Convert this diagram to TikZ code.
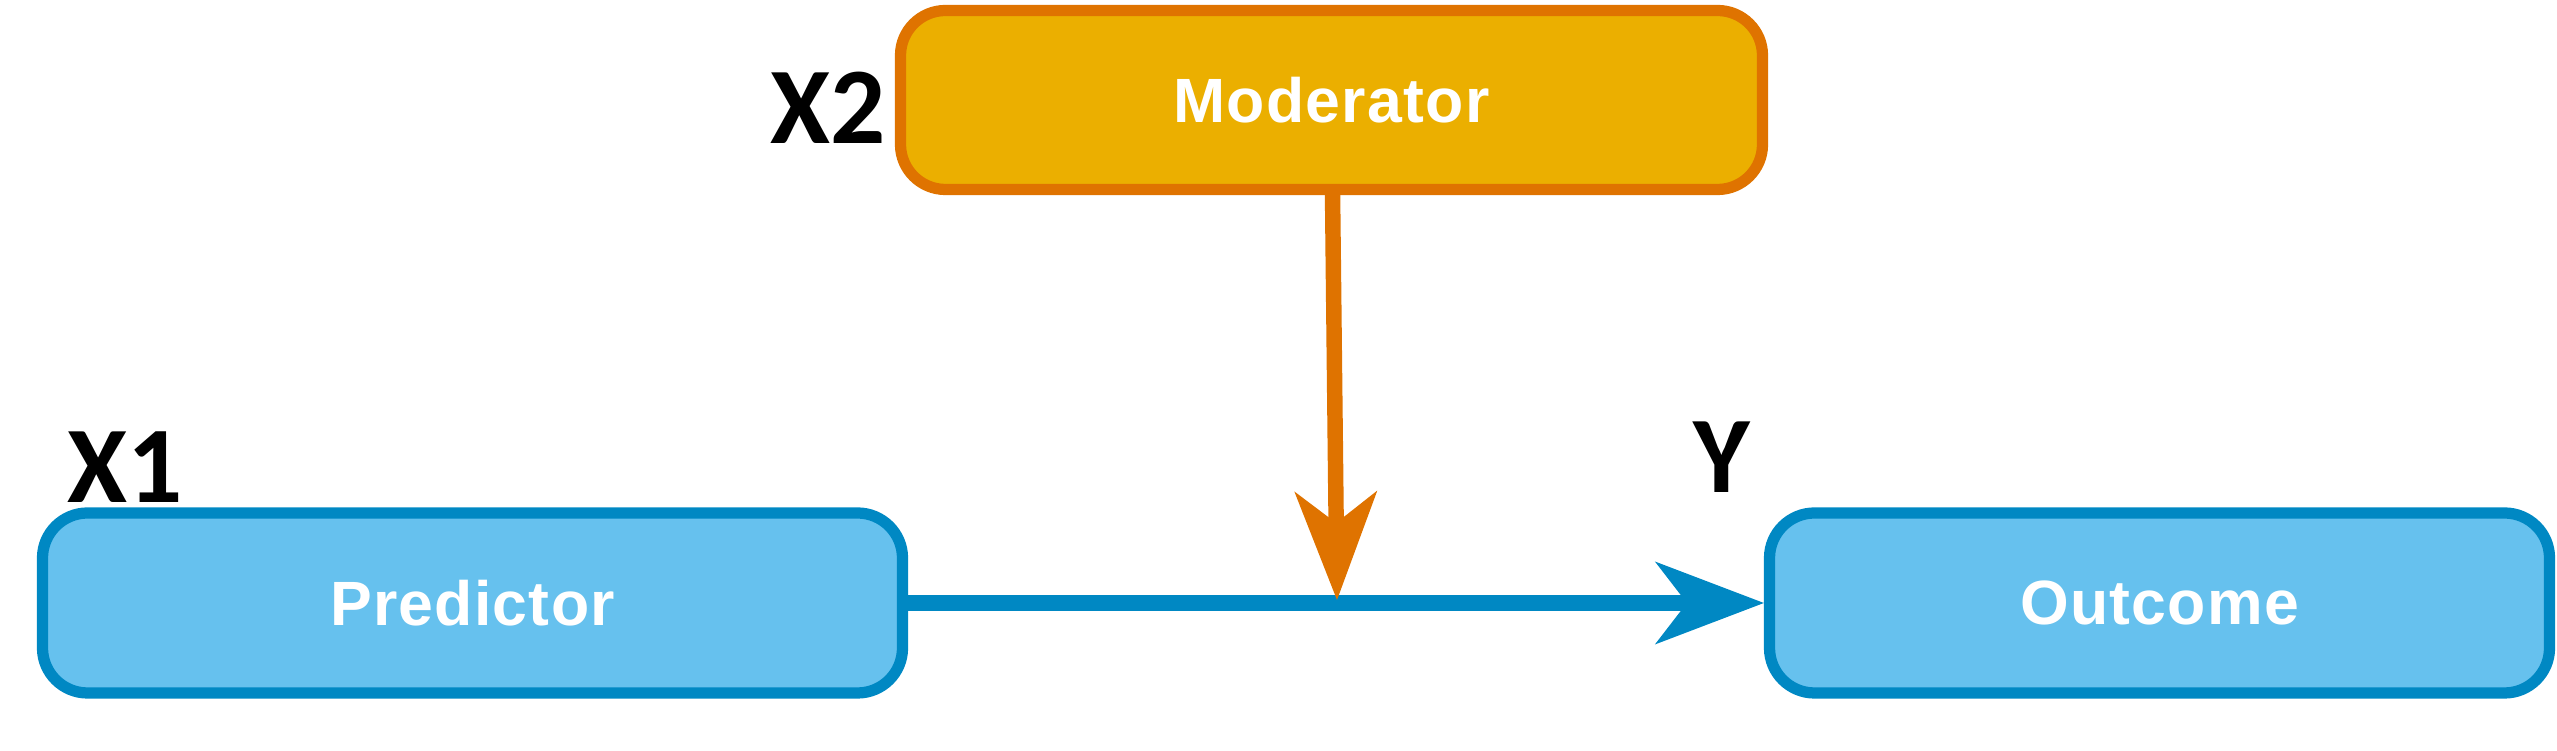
\documentclass[tikz,border=0pt]{standalone}
\usepackage{fontspec}
\usetikzlibrary{arrows.meta}
\newfontfamily\boxfont[LetterSpace=2]{Liberation Sans}
\newfontfamily\varfont{Carlito}
\definecolor{modfill}{RGB}{235,175,0}
\definecolor{moddraw}{RGB}{223,115,0}
\definecolor{varfill}{RGB}{102,193,238}
\definecolor{vardraw}{RGB}{0,136,195}
\begin{document}
\begin{tikzpicture}[
	varbox/.style={
		rectangle,
		draw=vardraw,
		fill=varfill,
		line width=3.2pt,
		align=center,
		rounded corners=0.45cm,
		text=white,
		font=\boxfont\bfseries\fontsize{17.8pt}{20pt}\selectfont,
		minimum height=1.8cm,
		inner sep=0pt
	},
	modbox/.style={
		varbox,
		draw=moddraw,
		fill=modfill
	},
	varlabel/.style={
		inner sep=0pt,
		font=\varfont\bfseries\fontsize{31pt}{34pt}\selectfont
	},
	link/.style={
		-{Stealth[length=10.9mm, width=8.3mm, inset=3.2mm, line width=0pt]},
		line width=4.4pt
	},
]
\useasboundingbox (0,0) rectangle (25.57,7.51);

% Variables
\node[varbox, minimum width=8.6cm] (pred) at (4.725,1.48) {Predictor};
\node[varbox, minimum width=7.8cm] (out) at (21.595,1.48) {Outcome};
\node[modbox, minimum width=8.62cm, minimum height=1.79cm] (mod) at (13.315,6.51) {Moderator};

\node[varlabel] (x1) at (1.25,2.84) {X1};
\node[varlabel] (x2) at (8.28,6.43) {X2};
\node[varlabel] (y) at (17.22,2.94) {Y};

% Paths
\coordinate (join) at (13.37,1.51);

\draw[link, draw=vardraw, fill=vardraw] (pred.east) -- (out.west);
\draw[link, draw=moddraw, fill=moddraw] (mod) -- (join);

\end{tikzpicture}
\end{document}
